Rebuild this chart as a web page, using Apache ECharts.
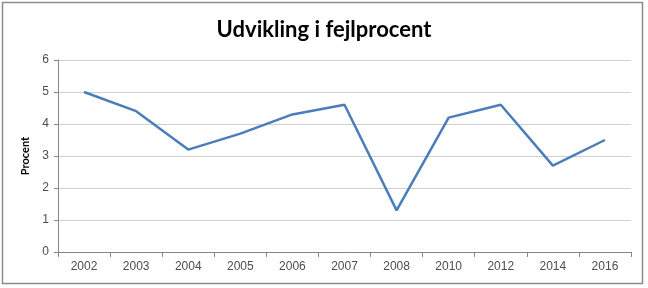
<!DOCTYPE html>
<html>
<head>
<meta charset="utf-8">
<script src="https://cdn.jsdelivr.net/npm/echarts@6/dist/echarts.min.js"></script>
<style>
html,body{margin:0;padding:0;background:#fff;}
#c{width:648px;height:288px;}
</style>
</head>
<body>
<div id="c"></div>
<script>
const titleText = "Udvikling i fejlprocent";
const yAxisName = "Procent";
const years = ["2002","2003","2004","2005","2006","2007","2008","2010","2012","2014","2016"];
const fejlprocent = [5.0, 4.4, 3.2, 3.7, 4.3, 4.6, 1.3, 4.2, 4.6, 2.7, 3.5];
const yTicks = [0, 1, 2, 3, 4, 5, 6];

const chart = echarts.init(document.getElementById('c'), null, {renderer:'canvas'});
chart.setOption({
  animation: false,
  backgroundColor: '#ffffff',
  title: {
    text: titleText,
    left: 'center',
    top: 14,
    textStyle: {fontFamily: 'Lato', fontWeight: 'bold', fontSize: 22, color: '#000000'}
  },
  graphic: [{
    type: 'rect',
    shape: {x: 2.5, y: 2.5, width: 640, height: 281},
    style: {fill: 'none', stroke: '#8c8c8c', lineWidth: 1.5},
    silent: true
  }],
  grid: {left: 58, right: 17, top: 60, bottom: 36},
  xAxis: {
    type: 'category',
    data: years,
    boundaryGap: true,
    axisLine: {lineStyle: {color: '#868686', width: 1}},
    axisTick: {show: true, inside: false, length: 5, lineStyle: {color: '#868686'}},
    axisLabel: {color: '#4d4d4d', fontFamily: 'Liberation Sans Narrow, Arial', fontSize: 12, margin: 9}
  },
  yAxis: {
    type: 'value',
    min: yTicks[0],
    max: yTicks[yTicks.length - 1],
    interval: 1,
    name: yAxisName,
    nameLocation: 'middle',
    nameGap: 24,
    nameRotate: 90,
    nameTextStyle: {fontFamily: 'Lato', fontWeight: 'bold', fontSize: 11, color: '#000000'},
    axisLine: {show: true, lineStyle: {color: '#868686', width: 1}},
    axisTick: {show: true, length: 4, lineStyle: {color: '#868686'}},
    axisLabel: {color: '#4d4d4d', fontFamily: 'Liberation Sans Narrow, Arial', fontSize: 12, margin: 9},
    splitLine: {show: true, lineStyle: {color: '#d0d0d0', width: 1}}
  },
  series: [{
    type: 'line',
    data: fejlprocent,
    symbol: 'none',
    lineStyle: {color: '#4a7ebb', width: 2.5},
    itemStyle: {color: '#4a7ebb'}
  }]
});
</script>
</body>
</html>
